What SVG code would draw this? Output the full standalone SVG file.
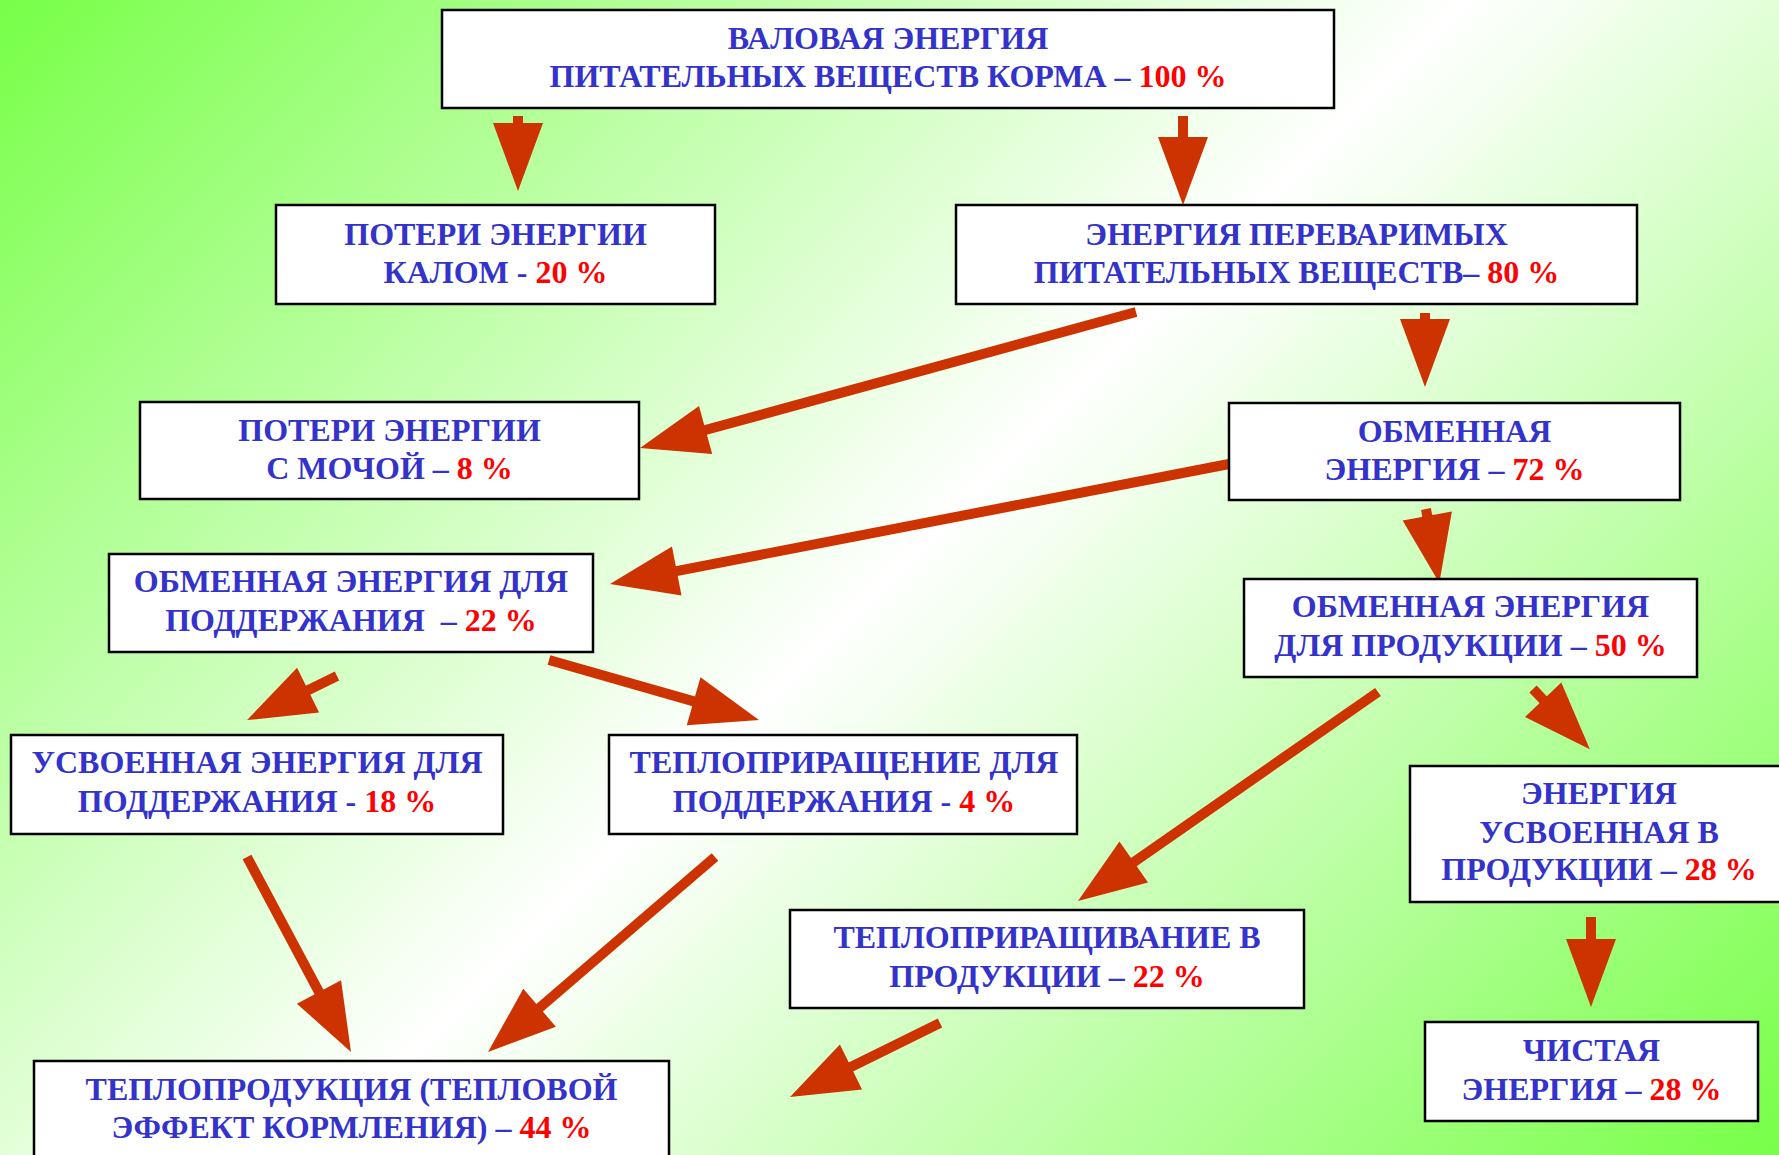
<svg xmlns="http://www.w3.org/2000/svg" width="1779" height="1155" viewBox="0 0 1779 1155">
  <defs>
    <linearGradient id="bg" gradientUnits="userSpaceOnUse" x1="0" y1="0" x2="1467" y2="1467">
      <stop offset="0" stop-color="#77ff47"/>
      <stop offset="0.5" stop-color="#ffffff"/>
      <stop offset="1" stop-color="#77ff47"/>
    </linearGradient>
    <marker id="head" markerUnits="userSpaceOnUse" markerWidth="68" markerHeight="50" viewBox="0 0 68 50" refX="3" refY="25" orient="auto" overflow="visible">
      <path d="M0,0 L68,25 L0,50 z" fill="#cc3300"/>
    </marker>
    <style>
      .box { fill: #ffffff; stroke: #000000; stroke-width: 2.5; }
      .t { font-family: "Liberation Serif", "Times New Roman", serif; font-weight: bold; font-size: 32px; fill: #3333cc; text-anchor: middle; }
      .r { fill: #ff0000; }
      .arr { stroke: #cc3300; stroke-width: 10; fill: none; marker-end: url(#head); }
    </style>
  </defs>
  <rect x="0" y="0" width="1779" height="1155" fill="url(#bg)"/>

  <g id="connectors">
    <line class="arr" x1="518" y1="116" x2="518" y2="126"/>
    <line class="arr" x1="1183" y1="116" x2="1183" y2="140"/>
    <line class="arr" x1="1136" y1="312" x2="702.7" y2="430.8"/>
    <line class="arr" x1="1229" y1="464" x2="673.8" y2="571.6"/>
    <line class="arr" x1="1425" y1="313" x2="1425" y2="322"/>
    <line class="arr" x1="1426" y1="509" x2="1427.8" y2="519"/>
    <line class="arr" x1="337" y1="676" x2="305.4" y2="691.5"/>
    <line class="arr" x1="549" y1="660" x2="696.5" y2="702.1"/>
    <line class="arr" x1="247" y1="857" x2="320.4" y2="994.6"/>
    <line class="arr" x1="715" y1="857" x2="537.3" y2="1009.7"/>
    <line class="arr" x1="1378" y1="692" x2="1131.3" y2="863.8"/>
    <line class="arr" x1="1533" y1="689" x2="1545.2" y2="701.9"/>
    <line class="arr" x1="1591" y1="917" x2="1591" y2="942"/>
    <line class="arr" x1="940" y1="1023" x2="848.3" y2="1068.3"/>
  </g>

  <g id="n-gross">
    <rect class="box" x="442" y="10" width="892" height="98"/>
    <text class="t" x="888" y="49">ВАЛОВАЯ ЭНЕРГИЯ</text>
    <text class="t" x="888" y="87">ПИТАТЕЛЬНЫХ ВЕЩЕСТВ КОРМА – <tspan class="r">100 %</tspan></text>
  </g>
  <g id="n-feces">
    <rect class="box" x="276" y="205" width="439" height="99"/>
    <text class="t" x="495.5" y="245">ПОТЕРИ ЭНЕРГИИ</text>
    <text class="t" x="495.5" y="283">КАЛОМ - <tspan class="r">20 %</tspan></text>
  </g>
  <g id="n-digestible">
    <rect class="box" x="956" y="205" width="681" height="99"/>
    <text class="t" x="1296.5" y="245">ЭНЕРГИЯ ПЕРЕВАРИМЫХ</text>
    <text class="t" x="1296.5" y="283">ПИТАТЕЛЬНЫХ ВЕЩЕСТВ– <tspan class="r">80 %</tspan></text>
  </g>
  <g id="n-urine">
    <rect class="box" x="140" y="402" width="499" height="97"/>
    <text class="t" x="389.5" y="441">ПОТЕРИ ЭНЕРГИИ</text>
    <text class="t" x="389.5" y="479">С МОЧОЙ – <tspan class="r">8 %</tspan></text>
  </g>
  <g id="n-metabolizable">
    <rect class="box" x="1229" y="403" width="451" height="97"/>
    <text class="t" x="1454.5" y="442">ОБМЕННАЯ</text>
    <text class="t" x="1454.5" y="480">ЭНЕРГИЯ – <tspan class="r">72 %</tspan></text>
  </g>
  <g id="n-me-maintenance">
    <rect class="box" x="109" y="554" width="484" height="98"/>
    <text class="t" x="351" y="592">ОБМЕННАЯ ЭНЕРГИЯ ДЛЯ</text>
    <text class="t" x="351" y="631">ПОДДЕРЖАНИЯ&#160; – <tspan class="r">22 %</tspan></text>
  </g>
  <g id="n-me-production">
    <rect class="box" x="1244" y="579" width="453" height="98"/>
    <text class="t" x="1470.5" y="617">ОБМЕННАЯ ЭНЕРГИЯ</text>
    <text class="t" x="1470.5" y="656">ДЛЯ ПРОДУКЦИИ – <tspan class="r">50 %</tspan></text>
  </g>
  <g id="n-assim-maintenance">
    <rect class="box" x="11" y="735" width="492" height="99"/>
    <text class="t" x="257" y="773">УСВОЕННАЯ ЭНЕРГИЯ ДЛЯ</text>
    <text class="t" x="257" y="812">ПОДДЕРЖАНИЯ - <tspan class="r">18 %</tspan></text>
  </g>
  <g id="n-heat-maintenance">
    <rect class="box" x="609" y="735" width="468" height="99"/>
    <text class="t" x="844" y="773">ТЕПЛОПРИРАЩЕНИЕ ДЛЯ</text>
    <text class="t" x="844" y="812">ПОДДЕРЖАНИЯ - <tspan class="r">4 %</tspan></text>
  </g>
  <g id="n-assim-production">
    <rect class="box" x="1410" y="766" width="380" height="136"/>
    <text class="t" x="1599" y="804">ЭНЕРГИЯ</text>
    <text class="t" x="1599" y="843">УСВОЕННАЯ В</text>
    <text class="t" x="1599" y="880">ПРОДУКЦИИ – <tspan class="r">28 %</tspan></text>
  </g>
  <g id="n-heat-production">
    <rect class="box" x="790" y="910" width="514" height="98"/>
    <text class="t" x="1047" y="948">ТЕПЛОПРИРАЩИВАНИЕ В</text>
    <text class="t" x="1047" y="987">ПРОДУКЦИИ – <tspan class="r">22 %</tspan></text>
  </g>
  <g id="n-net">
    <rect class="box" x="1425" y="1022" width="333" height="99"/>
    <text class="t" x="1591.5" y="1061">ЧИСТАЯ</text>
    <text class="t" x="1591.5" y="1100">ЭНЕРГИЯ – <tspan class="r">28 %</tspan></text>
  </g>
  <g id="n-heat-total">
    <rect class="box" x="34" y="1061" width="635" height="110"/>
    <text class="t" x="351.5" y="1100">ТЕПЛОПРОДУКЦИЯ (ТЕПЛОВОЙ</text>
    <text class="t" x="351.5" y="1138">ЭФФЕКТ КОРМЛЕНИЯ) – <tspan class="r">44 %</tspan></text>
  </g>
</svg>
